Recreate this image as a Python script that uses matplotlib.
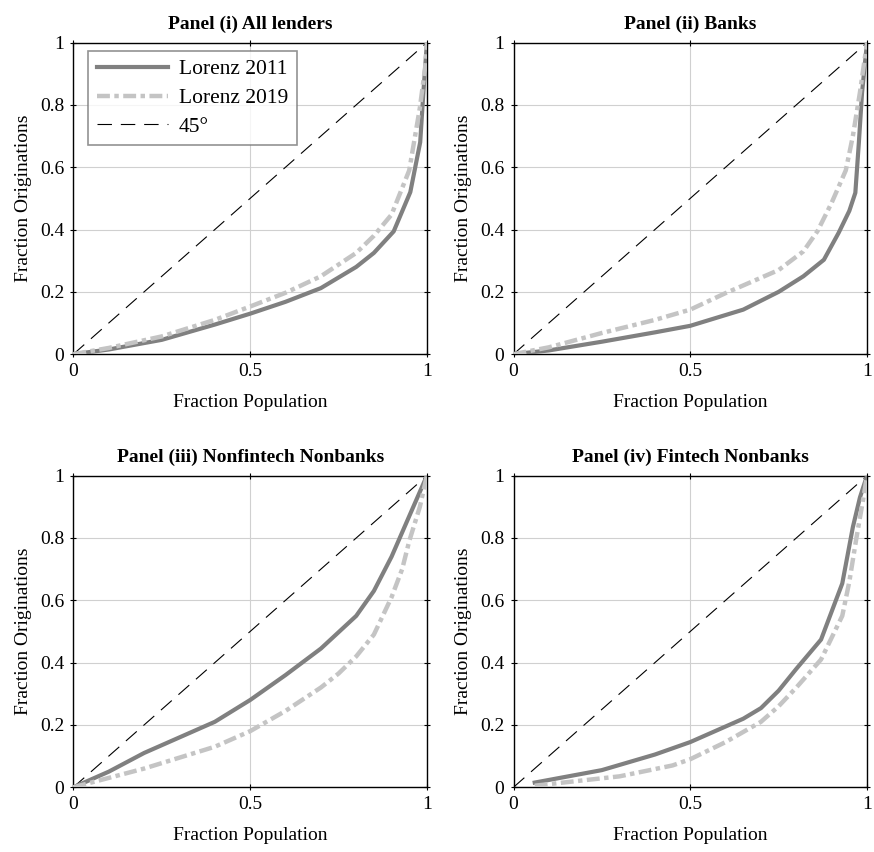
import matplotlib.pyplot as plt

plt.rcParams['font.family'] = ['Liberation Serif', 'DejaVu Serif']

titles = ["Panel (i) All lenders", "Panel (ii) Banks",
          "Panel (iii) Nonfintech Nonbanks", "Panel (iv) Fintech Nonbanks"]

# Lorenz curves (x = fraction population, y = fraction originations)
x11_i = [0, 0.1, 0.25, 0.4, 0.5, 0.6, 0.7, 0.8, 0.85, 0.906, 0.953, 0.981, 0.99, 1]
y11_i = [0, 0.015, 0.046, 0.095, 0.13, 0.168, 0.212, 0.28, 0.325, 0.394, 0.52, 0.68, 0.84, 1]
x19_i = [0, 0.1, 0.25, 0.4, 0.5, 0.6, 0.7, 0.8, 0.85, 0.9, 0.95, 0.98, 0.995, 1]
y19_i = [0, 0.02, 0.057, 0.11, 0.153, 0.197, 0.25, 0.325, 0.38, 0.448, 0.59, 0.79, 0.92, 1]

x11_ii = [0, 0.1, 0.25, 0.4, 0.5, 0.65, 0.75, 0.82, 0.878, 0.92, 0.95, 0.967, 0.977, 0.986, 1]
y11_ii = [0, 0.012, 0.04, 0.07, 0.091, 0.143, 0.2, 0.25, 0.303, 0.39, 0.46, 0.518, 0.68, 0.84, 1]
x19_ii = [0, 0.1, 0.25, 0.4, 0.5, 0.6, 0.75, 0.82, 0.86, 0.9, 0.94, 0.96, 0.98, 1]
y19_ii = [0, 0.022, 0.068, 0.11, 0.143, 0.196, 0.27, 0.33, 0.395, 0.486, 0.59, 0.70, 0.84, 1]

x11_iii = [0, 0.1, 0.2, 0.3, 0.4, 0.5, 0.6, 0.7, 0.8, 0.85, 0.9, 0.95, 1]
y11_iii = [0, 0.05, 0.11, 0.16, 0.21, 0.28, 0.36, 0.445, 0.55, 0.63, 0.74, 0.87, 1]
x19_iii = [0, 0.1, 0.2, 0.3, 0.4, 0.5, 0.6, 0.7, 0.75, 0.8, 0.85, 0.9, 0.93, 0.95, 0.98, 1]
y19_iii = [0, 0.03, 0.06, 0.095, 0.13, 0.18, 0.245, 0.32, 0.365, 0.42, 0.49, 0.61, 0.70, 0.79, 0.90, 1]

x11_iv = [0.06, 0.25, 0.4, 0.5, 0.6, 0.65, 0.7, 0.75, 0.8, 0.87, 0.93, 0.96, 0.98, 1]
y11_iv = [0.015, 0.055, 0.105, 0.145, 0.195, 0.22, 0.254, 0.31, 0.38, 0.474, 0.654, 0.835, 0.93, 1]
x19_iv = [0.06, 0.3, 0.45, 0.5, 0.6, 0.7, 0.75, 0.8, 0.87, 0.93, 0.95, 0.97, 0.99, 1]
y19_iv = [0.005, 0.035, 0.07, 0.09, 0.145, 0.21, 0.26, 0.32, 0.41, 0.55, 0.66, 0.80, 0.93, 1]

curves = [(x11_i, y11_i, x19_i, y19_i),
          (x11_ii, y11_ii, x19_ii, y19_ii),
          (x11_iii, y11_iii, x19_iii, y19_iii),
          (x11_iv, y11_iv, x19_iv, y19_iv)]

fig, axes = plt.subplots(2, 2, figsize=(8.74, 8.52), dpi=100)
fig.subplots_adjust(left=0.084, right=0.992, top=0.95, bottom=0.076,
                    wspace=0.245, hspace=0.39)

for ax, title, (xa, ya, xb, yb) in zip(axes.flat, titles, curves):
    ax.plot(xa, ya, color='#808080', lw=3, label='Lorenz 2011', zorder=3)
    ax.plot(xb, yb, color='#c4c4c4', lw=3.2, ls=(0, (2.9, 1, 1, 1)),
            label='Lorenz 2019', zorder=3)
    ax.plot([0, 1], [0, 1], color='black', lw=0.8, ls=(0, (13, 8)),
            label='45°', zorder=2)
    ax.set_xlim(0, 1)
    ax.set_ylim(0, 1)
    ax.set_xticks([0, 0.5, 1])
    ax.set_xticklabels(['0', '0.5', '1'])
    ax.set_yticks([0, 0.2, 0.4, 0.6, 0.8, 1])
    ax.set_yticklabels(['0', '0.2', '0.4', '0.6', '0.8', '1'])
    ax.grid(True, color='#d0d0d0', lw=0.8)
    ax.tick_params(direction='inout', length=5, width=0.8, labelsize=14,
                   top=True, right=True, pad=4)
    for s in ax.spines.values():
        s.set_linewidth(1.0)
    ax.set_title(title, fontsize=14, fontweight='bold', pad=10)
    ax.set_xlabel('Fraction Population', fontsize=14, labelpad=10)
    ax.set_ylabel('Fraction Originations', fontsize=14, labelpad=6)

leg = axes[0, 0].legend(loc='upper left', bbox_to_anchor=(0.042, 0.974),
                        fontsize=15.5, frameon=True, fancybox=False,
                        handlelength=3.3, handletextpad=0.5,
                        borderpad=0.4, labelspacing=0.4,
                        borderaxespad=0)
leg.get_frame().set_edgecolor('#777777')
leg.get_frame().set_linewidth(1.2)

fig.savefig('out.png', dpi=100)
